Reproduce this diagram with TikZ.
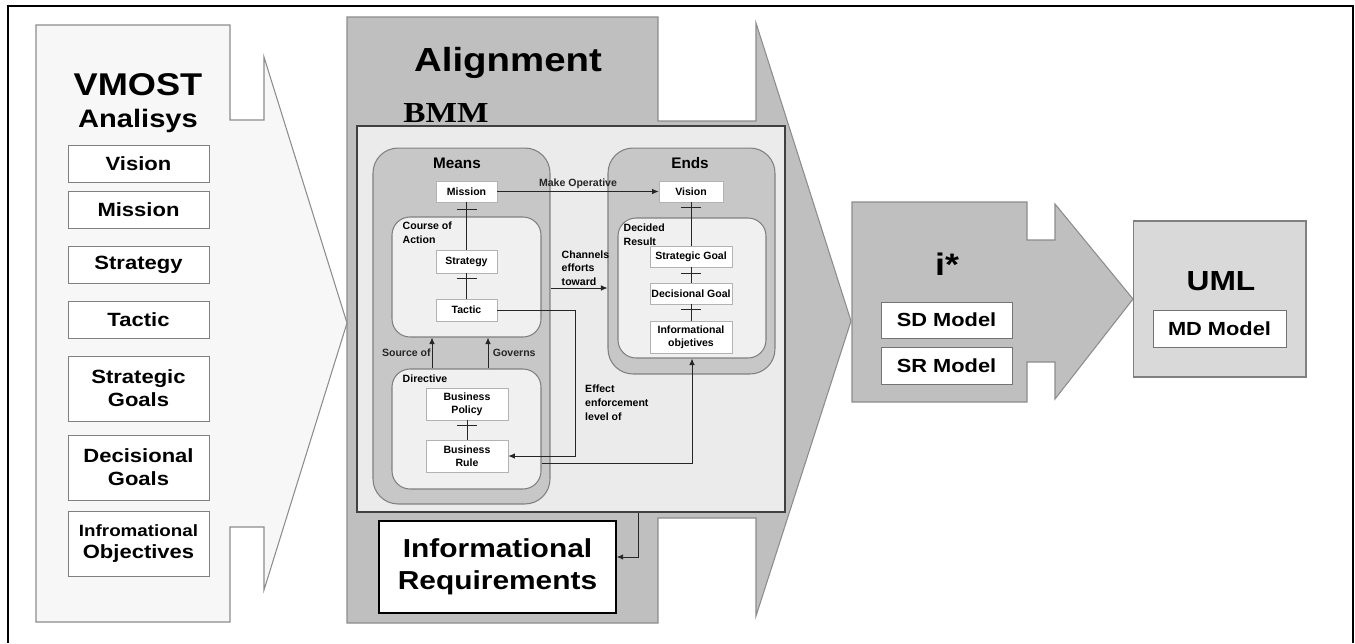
\documentclass[tikz,border=0pt]{standalone}
\usepackage{fontspec}
\setmainfont{Liberation Sans}
\newfontfamily\widesf[FakeStretch=1.15]{Liberation Sans}
\newfontfamily\bmmfont[FakeStretch=1.15]{Liberation Serif}
\usetikzlibrary{
  arrows.meta,
  calc,
  positioning
}

\begin{document}
\begin{tikzpicture}[
  x=0.02cm, y=-0.02cm,
  stage/.style={draw=black!45, line width=0.6pt},
  lbox/.style={draw=black!50, fill=white, minimum width=2.82cm, minimum height=0.74cm,
               align=center, inner sep=1pt, font=\widesf\fontsize{10.9}{13}\selectfont\bfseries},
  grp/.style={draw=black!50, fill=black!22, rounded corners=0.5cm, line width=0.6pt},
  subgrp/.style={draw=black!50, fill=black!6, rounded corners=0.36cm, line width=0.6pt},
  mbox/.style={draw=black!30, fill=white, minimum width=1.22cm, minimum height=0.42cm,
               align=center, inner sep=0.5pt, font=\fontsize{6}{7.2}\selectfont\bfseries},
  lbl/.style={inner sep=0.5pt, align=left, font=\fontsize{6}{7.8}\selectfont\bfseries},
  ibox/.style={draw=black!55, fill=white, minimum width=2.62cm, minimum height=0.72cm,
               font=\widesf\fontsize{10.8}{12}\selectfont\bfseries},
  bigtxt/.style={anchor=base, inner sep=0pt},
  arr/.style={-{Latex[length=1.3mm, width=1.1mm]}, black!85, line width=0.5pt},
  lnk/.style={black!85, line width=0.5pt}
]
\useasboundingbox (0,0) rectangle (1355,643);

% frame
\draw[line width=1.1pt] (8,643) -- (8,6) -- (1353,6) -- (1353,643);

% stages
\draw[stage, fill=black!25] (347,17) -- (658,17) -- (658,121) -- (756,121) -- (756,23)
  -- (851,321) -- (756,616) -- (756,518) -- (658,518) -- (658,623) -- (347,623) -- cycle;
\draw[stage, fill=black!3] (36,25) -- (230,25) -- (230,120) -- (264,120) -- (264,57)
  -- (347,323) -- (264,590) -- (264,527) -- (230,527) -- (230,622) -- (36,622) -- cycle;
\draw[stage, fill=black!25] (852,202) -- (1027,202) -- (1027,240) -- (1055,240) -- (1055,204)
  -- (1133,299) -- (1055,399) -- (1055,362) -- (1027,362) -- (1027,402) -- (852,402) -- cycle;

% VMOST
\node[bigtxt, font=\widesf\fontsize{17.9}{20}\selectfont\bfseries] (vmost) at (138,95) {VMOST};
\node[bigtxt, font=\widesf\fontsize{14.4}{17}\selectfont\bfseries] (analisys) at (138,127) {Analisys};
\node[lbox] (vVision) at (138.5,163.5) {Vision};
\node[lbox] (vMission) at (138.5,209.5) {Mission};
\node[lbox] (vStrategy) at (138.5,264.5) {Strategy};
\node[lbox] (vTactic) at (138.5,320) {Tactic};
\node[lbox, minimum height=1.3cm] (vSGoals) at (138.5,388.5) {Strategic\\Goals};
\node[lbox, minimum height=1.3cm] (vDGoals) at (138.5,467.5) {Decisional\\Goals};
\node[lbox, minimum height=1.3cm] (vIObj) at (138.5,543.5)
  {\fontsize{9.3}{12}\selectfont Infromational\\\fontsize{10.9}{13}\selectfont Objectives};

% Alignment
\node[bigtxt, font=\widesf\fontsize{19}{22}\selectfont\bfseries] (align) at (508,71) {Alignment};
\node[bigtxt, font=\fontsize{16.5}{18}\selectfont\bmmfont\bfseries] (bmmtxt) at (446,122) {BMM};
\node[draw=black!75, fill=black!8, line width=0.9pt, minimum width=8.56cm,
      minimum height=7.72cm] (bmm) at (571,319) {};
\node[draw=black, fill=white, line width=0.8pt, minimum width=4.74cm, minimum height=1.84cm,
      align=center, font=\widesf\fontsize{14.8}{18}\selectfont\bfseries] (ireq) at (497.5,567)
  {Informational\\Requirements};

% Means
\node[grp, minimum width=3.54cm, minimum height=7.12cm] (means) at (461.5,326) {};
\node[bigtxt, font=\fontsize{8.7}{10}\selectfont\bfseries] (meanstxt) at (457,168) {Means};
\node[subgrp, minimum width=2.98cm, minimum height=2.4cm] (course) at (466.5,277) {};
\node[subgrp, minimum width=2.98cm, minimum height=2.4cm] (directive) at (466.5,429) {};
\node[lbl, anchor=north west] (coursetxt) at ($(course.north west)+(10,4)$) {Course of\\Action};
\node[lbl, anchor=north west] (directivetxt) at ($(directive.north west)+(10,5)$) {Directive};
\node[mbox] (mission) at (466.5,191.5) {Mission};
\node[mbox, minimum height=0.46cm] (strategy) at (466.5,261.5) {Strategy};
\node[mbox, minimum height=0.44cm] (tactic) at (466.5,310) {Tactic};
\node[mbox, minimum width=1.64cm, minimum height=0.64cm] (bpolicy) at (467,404) {Business\\Policy};
\node[mbox, minimum width=1.64cm, minimum height=0.64cm] (brule) at (467,456) {Business\\Rule};

% Ends
\node[grp, minimum width=3.34cm, minimum height=4.52cm] (ends) at (691.5,261) {};
\node[bigtxt, font=\fontsize{8.7}{10}\selectfont\bfseries] (endstxt) at (690,168) {Ends};
\node[subgrp, minimum width=2.96cm, minimum height=2.8cm] (decided) at (692,288) {};
\node[lbl, anchor=north west] (decidedtxt) at ($(decided.north west)+(5,5)$) {Decided\\Result};
\node[mbox, minimum width=1.28cm] (vision) at (691,191.5) {Vision};
\node[mbox, minimum width=1.64cm] (sgoal) at (691,256.5) {Strategic Goal};
\node[mbox, minimum width=1.64cm] (dgoal) at (691,293.5) {Decisional Goal};
\node[mbox, minimum width=1.64cm, minimum height=0.64cm] (iobj) at (691,337) {Informational\\objetives};

% composition links
\draw[lnk] (mission) -- (strategy);
\draw[lnk] (strategy) -- (tactic);
\draw[lnk] (bpolicy) -- (brule);
\draw[lnk] (vision) -- (sgoal);
\draw[lnk] (sgoal) -- (dgoal);
\draw[lnk] (dgoal) -- (iobj);
\draw[lnk] ($(mission.south)+(-10,7)$) -- +(20,0);
\draw[lnk] ($(strategy.south)+(-10,5)$) -- +(20,0);
\draw[lnk] ($(bpolicy.south)+(-10,5)$) -- +(20,0);
\draw[lnk] ($(vision.south)+(-10,5)$) -- +(20,0);
\draw[lnk] ($(sgoal.south)+(-10,6)$) -- +(20,0);
\draw[lnk] ($(dgoal.south)+(-10,5)$) -- +(20,0);

% relations
\draw[arr] (mission) -- node[lbl, above=1pt] (makeop) {Make Operative} (vision);
\coordinate (chan) at ($(means.east)+(0,-38)$);
\draw[arr] (chan) -- (chan -| ends.west);
\node[lbl, anchor=south west] (chantxt) at ($(chan)+(10,-1)$) {Channels\\efforts\\toward};
\draw[arr] ($(directive.north)+(-34.5,0)$) -- node[lbl, left] (srcof) {Source of}
  ($(course.south)+(-34.5,0)$);
\draw[arr] ($(directive.north)+(21.5,0)$) -- node[lbl, right=2pt] (governs) {Governs}
  ($(course.south)+(21.5,0)$);
\draw[arr] (tactic.east) -- ++(78,0) |- (brule.east);
\draw[arr] ($(directive.east)+(0,34)$) -| (decided.south);
\node[lbl, anchor=north west] (effect) at (584,384) {Effect\\enforcement\\level of};
\draw[arr] ($(bmm.south)+(67,0)$) |- ($(ireq.east)+(0,-10)$);

% i*
\node[bigtxt, font=\widesf\fontsize{17.7}{20}\selectfont\bfseries] (istar) at (947,275) {i*};
\node[ibox] (sdmodel) at (946.5,320) {SD Model};
\node[ibox, minimum height=0.74cm] (srmodel) at (946.5,365.5) {SR Model};

% UML
\node[draw=black!50, fill=black!15, line width=0.6pt, minimum width=3.46cm,
      minimum height=3.12cm] (uml) at (1219.5,299) {};
\node[bigtxt, font=\widesf\fontsize{15.7}{18}\selectfont\bfseries] (umltxt) at (1221,290) {UML};
\node[ibox, minimum width=2.66cm, minimum height=0.74cm] (mdmodel) at (1219.5,328.5) {MD Model};

\end{tikzpicture}
\end{document}
